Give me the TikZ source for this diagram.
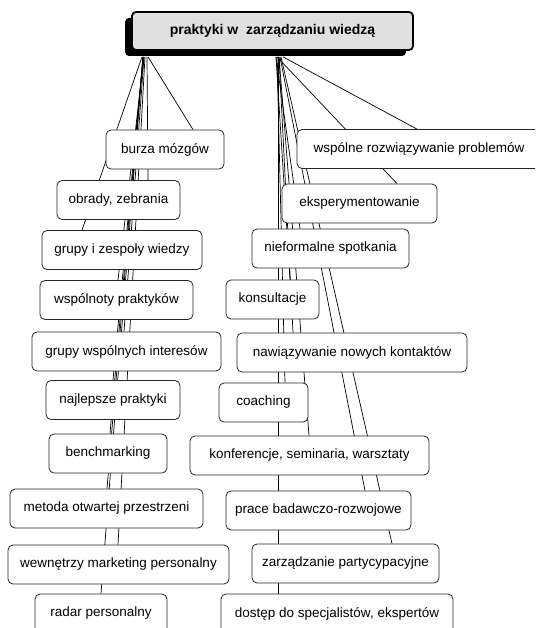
\documentclass[tikz,border=0pt]{standalone}
\usepackage{fontspec}
\setmainfont{Liberation Sans}
\usetikzlibrary{calc,shadows}
\pgfdeclarelayer{bg}
\pgfsetlayers{bg,main}
\tikzset{
 item/.style={draw=black!85, line width=0.8pt, fill=white, rounded corners=5pt, minimum height=39pt, inner sep=0pt, font=\fontsize{13.5}{16}\selectfont},
 link/.style={line width=0.7pt, draw=black},
 rootbox/.style={draw=black, line width=1.8pt, fill=black!12, rounded corners=4pt, minimum width=281pt, minimum height=38pt, inner sep=0pt, font=\bfseries\fontsize{14}{17}\selectfont, drop shadow={shadow xshift=-7pt, shadow yshift=-6pt, fill=black, opacity=1}}
}
\begin{document}
\begin{tikzpicture}[x=1pt,y=-1pt]
\useasboundingbox (0,0) rectangle (535,628);
\clip (0,0) rectangle (535,628);
\node[rootbox] (root) at (272.5,31) {praktyki w\ \ zarządzaniu wiedzą};
\coordinate (sb) at ($(root.south)+(0,6)$);
% left column
\node[item, minimum width=118pt] (l1) at (165,149.5) {burza mózgów};
\node[item, minimum width=123pt] (l2) at (118.5,200) {obrady, zebrania};
\node[item, minimum width=160pt] (l3) at (122,250) {grupy i zespoły wiedzy};
\node[item, minimum width=153pt] (l4) at (116.5,300) {wspólnoty praktyków};
\node[item, minimum width=189pt] (l5) at (126.5,351.5) {grupy wspólnych interesów};
\node[item, minimum width=134pt] (l6) at (113,400) {najlepsze praktyki};
\node[item, minimum width=118pt] (l7) at (108,453.5) {benchmarking};
\node[item, minimum width=193pt] (l8) at (106.5,508.5) {metoda otwartej przestrzeni};
\node[item, minimum width=221pt] (l9) at (118.5,564.5) {wewnętrzy marketing personalny};
\node[item, minimum width=132pt] (l10) at (101,613.5) {radar personalny};
% right column
\node[item, minimum width=244pt] (r1) at (419,149) {wspólne rozwiązywanie problemów};
\node[item, minimum width=155pt] (r2) at (359.5,203.5) {eksperymentowanie};
\node[item, minimum width=157pt] (r3) at (330.5,248.5) {nieformalne spotkania};
\node[item, minimum width=93pt] (r4) at (272.5,299.5) {konsultacje};
\node[item, minimum width=230pt] (r5) at (352,352.5) {nawiązywanie nowych kontaktów};
\node[item, minimum width=89pt] (r6) at (263.5,402.5) {coaching};
\node[item, minimum width=239pt] (r7) at (309.5,455.5) {konferencje, seminaria, warsztaty};
\node[item, minimum width=185pt] (r8) at (318.5,510.5) {prace badawczo-rozwojowe};
\node[item, minimum width=187pt] (r9) at (345.5,563.5) {zarządzanie partycypacyjne};
\node[item, minimum width=232pt] (r10) at (337,613.5) {dostęp do specjalistów, ekspertów};
\begin{pgfonlayer}{bg}
\draw[link] ($(sb)+(-124.5,0)$) -- ($(l1.north)+(28,0)$);
\draw[link] ($(sb)+(-125.5,0)$) -- ($(l2.north)+(29.5,0)$);
\draw[link] ($(sb)+(-130.5,0)$) -- ($(l3.north)+(-40,0)$);
\draw[link] ($(sb)+(-128.5,0)$) -- ($(l4.north)+(1.5,0)$);
\draw[link] ($(sb)+(-128.5,0)$) -- ($(l5.north)+(-2.5,0)$);
\draw[link] ($(sb)+(-129.5,0)$) -- ($(l6.north)+(0,0)$);
\draw[link] ($(sb)+(-129.5,0)$) -- ($(l7.north)+(2,0)$);
\draw[link] ($(sb)+(-129.5,0)$) -- ($(l8.north)+(0.5,0)$);
\draw[link] ($(sb)+(-127.5,0)$) -- ($(l9.north)+(-0.5,0)$);
\draw[link] ($(sb)+(-129.5,0)$) -- ($(l10.north)+(0,0)$);
\draw[link] ($(sb)+(10.5,0)$) -- ($(r1.north)+(-2,0)$);
\draw[link] ($(sb)+(4.5,0)$) -- ($(r2.north)+(37.5,0)$);
\draw[link] ($(sb)+(3.5,0)$) -- ($(r3.north)+(-30.5,0)$);
\draw[link] ($(sb)+(3.5,0)$) -- ($(r4.north)+(17.5,0)$);
\draw[link] ($(sb)+(6.5,0)$) -- ($(r5.north)+(-59,0)$);
\draw[link] ($(sb)+(4.5,0)$) -- ($(r6.north)+(21.5,0)$);
\draw[link] ($(sb)+(6.5,0)$) -- ($(r7.north)+(-0.5,0)$);
\draw[link] ($(sb)+(7.5,0)$) -- ($(r8.north)+(46.5,0)$);
\draw[link] ($(sb)+(8.5,0)$) -- ($(r9.north)+(46.5,0)$);
\draw[link] ($(sb)+(5.5,0)$) -- ($(r10.north)+(-59,0)$);
\end{pgfonlayer}
\end{tikzpicture}
\end{document}
